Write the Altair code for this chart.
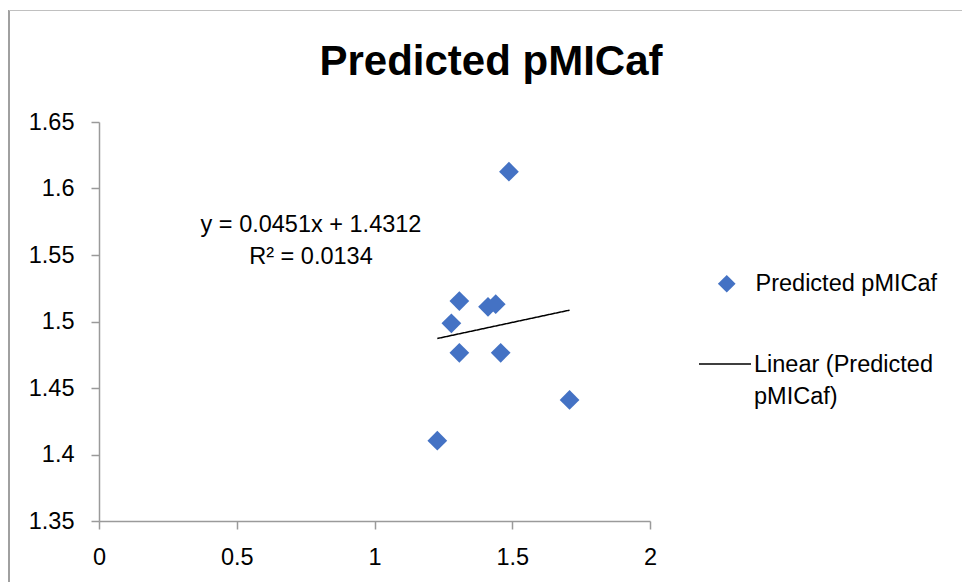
import altair as alt
import pandas as pd

# ---- data ----
x_vals = [1.488, 1.308, 1.279, 1.308, 1.412, 1.440, 1.458, 1.708, 1.228]
y_vals = [1.6126, 1.5154, 1.4986, 1.4765, 1.511, 1.513, 1.4765, 1.441, 1.4104]
series_name = "Predicted pMICaf"
trend_name = "Linear (Predicted pMICaf)"
trend_label_lines = ["Linear (Predicted", "pMICaf)"]
x_ticks = [0, 0.5, 1, 1.5, 2]
y_ticks = [1.35, 1.4, 1.45, 1.5, 1.55, 1.6, 1.65]
eq_lines = ["y = 0.0451x + 1.4312", "R\u00b2 = 0.0134"]
title_text = "Predicted pMICaf"

df = pd.DataFrame({"x": x_vals, "y": y_vals, "series": series_name})

FONT = "Liberation Sans"
FS = 23.5
AXIS_GRAY = "#9a9a9a"
W, H = 551, 399

xscale = alt.Scale(domain=[0, 2], nice=False, zero=False)
yscale = alt.Scale(domain=[1.35, 1.65], nice=False, zero=False)

xaxis = alt.Axis(title=None, values=x_ticks, format="~g", grid=False, tickSize=8,
                 labelPadding=16, labelFlush=False, labelFont=FONT, labelFontSize=FS,
                 labelColor="black", domainColor=AXIS_GRAY, tickColor=AXIS_GRAY,
                 domainWidth=1.5, tickWidth=1.5)
yaxis = alt.Axis(title=None, values=y_ticks, format="~g", grid=False, tickSize=8,
                 labelPadding=17, labelFlush=False, labelFont=FONT, labelFontSize=FS,
                 labelColor="black", domainColor=AXIS_GRAY, tickColor=AXIS_GRAY,
                 domainWidth=1.5, tickWidth=1.5)

points = alt.Chart(df).mark_point(shape="diamond", filled=True, size=390, opacity=1).encode(
    x=alt.X("x:Q", scale=xscale, axis=xaxis),
    y=alt.Y("y:Q", scale=yscale, axis=yaxis),
    color=alt.Color("series:N",
                    scale=alt.Scale(domain=[series_name], range=["#4472C4"]),
                    legend=alt.Legend(title=None, orient="none", legendX=616, legendY=150,
                                      symbolType="diamond", symbolSize=313, symbolOpacity=1,
                                      labelOffset=17, labelFont=FONT, labelFontSize=FS,
                                      labelColor="black", labelLimit=400, padding=0)),
)

label_expr = "[" + ", ".join("'" + s + "'" for s in trend_label_lines) + "]"

trend = alt.Chart(df).transform_regression("x", "y").transform_calculate(
    series="'" + trend_name + "'"
).mark_line(color="black", strokeWidth=1.5).encode(
    x=alt.X("x:Q", scale=xscale, axis=xaxis),
    y=alt.Y("y:Q", scale=yscale, axis=yaxis),
    strokeDash=alt.StrokeDash("series:N",
                              scale=alt.Scale(domain=[trend_name], range=[[1, 0]]),
                              legend=alt.Legend(title=None, orient="none", legendX=599, legendY=204,
                                                symbolType="M-1,0.42L1,0.42", symbolSize=2704,
                                                symbolStrokeColor="black", symbolStrokeWidth=1.5,
                                                symbolFillColor="transparent",
                                                labelOffset=2, labelFont=FONT, labelFontSize=FS,
                                                labelColor="black", labelLimit=400, padding=0,
                                                labelExpr=label_expr, labelBaseline="top")),
)

one = pd.DataFrame({"k": [0]})
eq_layers = []
for txt, ypix in zip(eq_lines, [102.7, 135.0]):
    eq_layers.append(
        alt.Chart(one).mark_text(font=FONT, fontSize=FS, color="black", align="center",
                                 baseline="middle").encode(
            text=alt.value(txt), x=alt.value(212), y=alt.value(ypix))
    )

title = alt.Chart(one).mark_text(font=FONT, fontSize=42, fontWeight="bold", color="black",
                                 align="center", baseline="alphabetic").encode(
    text=alt.value(title_text), x=alt.value(392), y=alt.value(-47))

border_left = alt.Chart(one).mark_rule(color="#a0a0a0", strokeWidth=2).encode(
    x=alt.value(-90), y=alt.value(-112), y2=alt.value(480))
border_top = alt.Chart(one).mark_rule(color="#c0c0c0", strokeWidth=1).encode(
    x=alt.value(-90), x2=alt.value(880), y=alt.value(-111.5))

chart = alt.layer(border_left, border_top, trend, points, *eq_layers, title).properties(
    width=W, height=H,
    padding={"left": 99, "top": 122, "right": 312, "bottom": 61},
    autosize=alt.AutoSizeParams(type="none"),
    background="white",
).configure(
    style={"guide-label": {"lineHeight": 32}}
).configure_view(stroke=None)

chart.save("out.html", embed_options={"renderer": "svg", "actions": False})
